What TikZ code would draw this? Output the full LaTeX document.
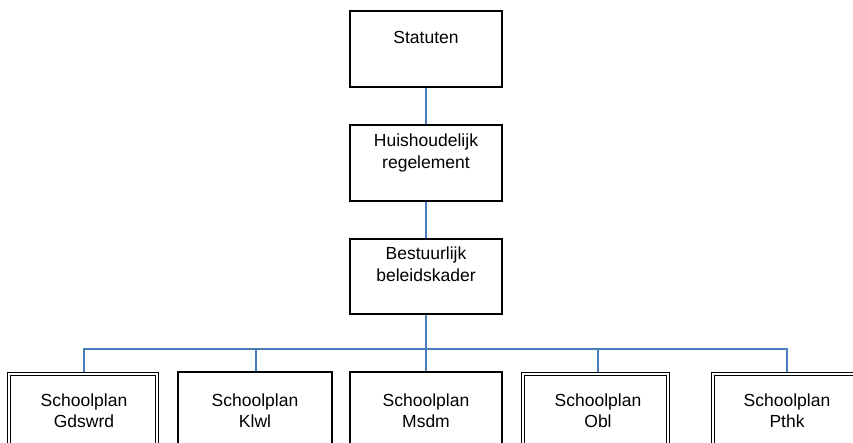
\documentclass[tikz,border=0pt]{standalone}
\usepackage{fontspec}
\setmainfont{Liberation Sans}
\usetikzlibrary{backgrounds}
\definecolor{linkblue}{HTML}{4A7EBB}
\begin{document}
\begin{tikzpicture}[x=1pt,y=-1pt,
  box/.style={draw=black, line width=1.3pt, fill=white, inner sep=0pt},
  dbox/.style={draw=black, line width=1pt, double=white, double distance=2.2pt, fill=white, inner sep=0pt},
  lbl/.style={font=\fontsize{17.5}{21.5}\selectfont, align=center, inner sep=0pt, anchor=base},
  conn/.style={draw=linkblue, line width=1.2pt}]
\useasboundingbox (0,0) rectangle (853,443);
\clip (0,0) rectangle (853,443);
% top chain
\node[box, minimum width=152pt, minimum height=76pt] (stat) at (426,49) {};
\node[box, minimum width=152pt, minimum height=76pt] (huis) at (426,163) {};
\node[box, minimum width=152pt, minimum height=75pt] (best) at (426,276.5) {};
% bottom row
\node[dbox, minimum width=147.8pt, minimum height=86pt] (b1) at (83,417) {};
\node[box, minimum width=154pt, minimum height=88pt] (b2) at (255,416) {};
\node[box, minimum width=152pt, minimum height=88pt] (b3) at (426,416) {};
\node[dbox, minimum width=144.8pt, minimum height=86pt] (b4) at (595.5,417) {};
\node[dbox, minimum width=147.8pt, minimum height=86pt] (b5) at (787,417) {};
% labels (base anchor = baseline of the last line)
\node[lbl] (statT) at (426,44) {Statuten};
\node[lbl] (huisT) at (426,168.5) {Huishoudelijk\\regelement};
\node[lbl] (bestT) at (426,281.5) {Bestuurlijk\\beleidskader};
\node[lbl] (b1T) at (84,427.5) {Schoolplan\\Gdswrd};
\node[lbl] (b2T) at (255,427.5) {Schoolplan\\Klwl};
\node[lbl] (b3T) at (426,427.5) {Schoolplan\\Msdm};
\node[lbl] (b4T) at (598,427.5) {Schoolplan\\Obl};
\node[lbl] (b5T) at (787,427.5) {Schoolplan\\Pthk};
% connectors
\coordinate (bar) at (426,349);
\begin{scope}[on background layer]
\draw[conn] (stat) -- (huis);
\draw[conn] (huis) -- (best);
\draw[conn] (best.south) -- (bar);
\draw[conn] (bar) -| ([xshift=1pt]b1.north);
\draw[conn] (bar) -| ([xshift=1pt]b2.north);
\draw[conn] (bar) -| (b3.north);
\draw[conn] (bar) -| ([xshift=2.5pt]b4.north);
\draw[conn] (bar) -| (b5.north);
\end{scope}
\end{tikzpicture}
\end{document}
